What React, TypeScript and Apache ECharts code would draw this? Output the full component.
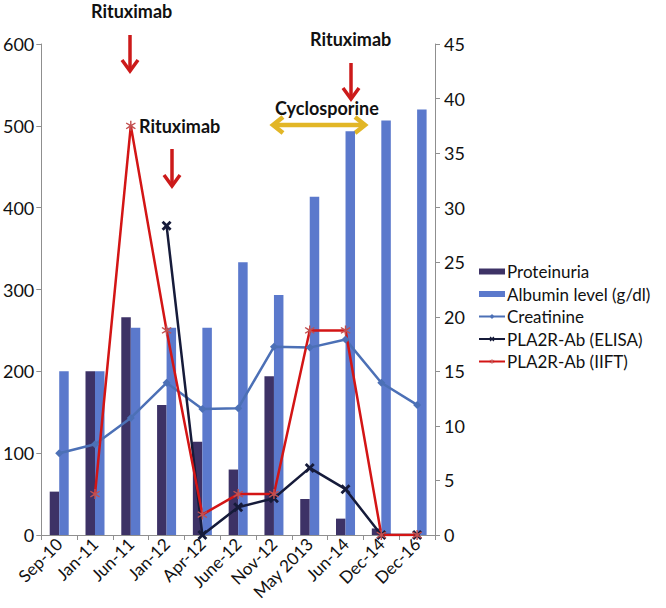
import React, { useEffect, useRef } from "react";
import * as echarts from "echarts";

const categories = ["Sep-10", "Jan-11", "Jun-11", "Jan-12", "Apr-12", "June-12", "Nov-12", "May 2013", "Jun-14", "Dec-14", "Dec-16"];
const proteinuria = [53, 200, 266, 159, 114, 80, 194, 44, 20, 8, null];
const albumin = [15, 15, 19, 19, 19, 25, 22, 31, 37, 38, 39];
const creatinine = [100, 111, 143, 186, 154, 155, 230, 229, 239, 186, 159];
const elisa = [null, null, null, 378, 0, 34, 45, 82, 56, 0, 0];
const iift = [null, 50, 500, 250, 25, 50, 50, 250, 250, 0, 0];

const leftTicks = { min: 0, max: 600, interval: 100 };
const rightTicks = { min: 0, max: 45, interval: 5 };

const FONT = "Lato, 'Open Sans', sans-serif";
const X_SYMBOL = "path://M0,2L2,0L5,3L8,0L10,2L7,5L10,8L8,10L5,7L2,10L0,8L3,5Z";
const STAR_SYMBOL = "path://M4.4,0H5.6V3.6L8.6,1.6L9.2,2.6L6.2,5L9.2,7.4L8.6,8.4L5.6,6.4V10H4.4V6.4L1.4,8.4L0.8,7.4L3.8,5L0.8,2.6L1.4,1.6L4.4,3.6Z";

const RED = "#cc1a1a";
const YELLOW = "#e2b626";

function arrowDown(x: number, y1: number, y2: number) {
  return [
    { type: "line", shape: { x1: x, y1, x2: x, y2: y2 - 2 }, style: { stroke: RED, lineWidth: 3.5 } },
    {
      type: "polyline",
      shape: { points: [[x - 8, y2 - 11], [x, y2], [x + 8, y2 - 11]] },
      style: { stroke: RED, lineWidth: 3.5, fill: null },
    },
  ];
}

function label(text: string, x: number, y: number) {
  return {
    type: "text",
    x,
    y,
    style: { text, fill: "#111", font: `bold 18px ${FONT}`, textVerticalAlign: "middle", textAlign: "left" },
  };
}

export default function App() {
  const ref = useRef<HTMLDivElement>(null);
  useEffect(() => {
    if (!ref.current) return;
    const chart = echarts.init(ref.current, null, { renderer: "svg" });
    const axisLine = { show: true, lineStyle: { color: "#8f8f8f", width: 1 } };
    chart.setOption({
      animation: false,
      backgroundColor: "#ffffff",
      textStyle: { fontFamily: FONT },
      grid: { left: 37, right: 231, top: 44, bottom: 73, containLabel: false },
      legend: {
        orient: "vertical",
        left: 473,
        top: 258,
        itemWidth: 26,
        itemHeight: 6,
        itemGap: 5.5,
        textStyle: { fontSize: 17, color: "#111", fontFamily: FONT, padding: [0, 0, 0, -3] },
        data: [
          { name: "Proteinuria", icon: "rect" },
          { name: "Albumin level (g/dl)", icon: "rect" },
          { name: "Creatinine" },
          { name: "PLA2R-Ab (ELISA)" },
          { name: "PLA2R-Ab (IIFT)" },
        ],
      },
      xAxis: {
        type: "category",
        data: categories,
        boundaryGap: true,
        axisLine,
        axisTick: { show: true, alignWithLabel: false, length: 5, lineStyle: { color: "#8f8f8f" } },
        axisLabel: { rotate: 45, fontSize: 17, color: "#111", margin: 6, interval: 0 },
        splitLine: { show: false },
      },
      yAxis: [
        {
          type: "value",
          position: "left",
          ...leftTicks,
          axisLine,
          axisTick: { show: true, length: 5, lineStyle: { color: "#8f8f8f" } },
          axisLabel: { fontSize: 18, color: "#111", margin: 7 },
          splitLine: { show: false },
        },
        {
          type: "value",
          position: "right",
          ...rightTicks,
          axisLine,
          axisTick: { show: true, length: 5, lineStyle: { color: "#8f8f8f" } },
          axisLabel: { fontSize: 18, color: "#111", margin: 9 },
          splitLine: { show: false },
        },
      ],
      series: [
        {
          name: "Proteinuria",
          type: "bar",
          yAxisIndex: 0,
          data: proteinuria,
          barWidth: 9.5,
          barGap: "0%",
          itemStyle: { color: "#3d3266" },
        },
        {
          name: "Albumin level (g/dl)",
          type: "bar",
          yAxisIndex: 1,
          data: albumin,
          barWidth: 9.5,
          barGap: "0%",
          itemStyle: { color: "#5b79cc" },
        },
        {
          name: "Creatinine",
          type: "line",
          yAxisIndex: 0,
          data: creatinine,
          symbol: "diamond",
          symbolSize: 8,
          lineStyle: { color: "#4c70b6", width: 2.5 },
          itemStyle: { color: "#4c70b6" },
        },
        {
          name: "PLA2R-Ab (ELISA)",
          type: "line",
          yAxisIndex: 0,
          data: elisa,
          symbol: X_SYMBOL,
          symbolSize: 10,
          connectNulls: false,
          lineStyle: { color: "#161b3a", width: 2.5 },
          itemStyle: { color: "#161b3a" },
        },
        {
          name: "PLA2R-Ab (IIFT)",
          type: "line",
          yAxisIndex: 0,
          data: iift,
          symbol: STAR_SYMBOL,
          symbolSize: 10,
          connectNulls: false,
          lineStyle: { color: "#d31515", width: 2.5 },
          itemStyle: { color: "#c25050" },
        },
      ],
      graphic: [
        label("Rituximab", 91, 11),
        ...arrowDown(130, 35, 71),
        label("Rituximab", 139, 126),
        ...arrowDown(172, 149, 186),
        label("Rituximab", 310, 39),
        ...arrowDown(351, 63, 99),
        label("Cyclosporine", 275, 108),
        { type: "line", shape: { x1: 276, y1: 125, x2: 362, y2: 125 }, style: { stroke: YELLOW, lineWidth: 4.5 } },
        {
          type: "polyline",
          shape: { points: [[283, 117], [273, 125], [283, 133]] },
          style: { stroke: YELLOW, lineWidth: 4.5, fill: null },
        },
        {
          type: "polyline",
          shape: { points: [[355, 117], [365, 125], [355, 133]] },
          style: { stroke: YELLOW, lineWidth: 4.5, fill: null },
        },
      ],
    });
    return () => chart.dispose();
  }, []);
  return (
    <div
      ref={ref}
      style={{ position: "fixed", left: 0, top: 0, width: 666, height: 608, background: "#fff" }}
    />
  );
}
